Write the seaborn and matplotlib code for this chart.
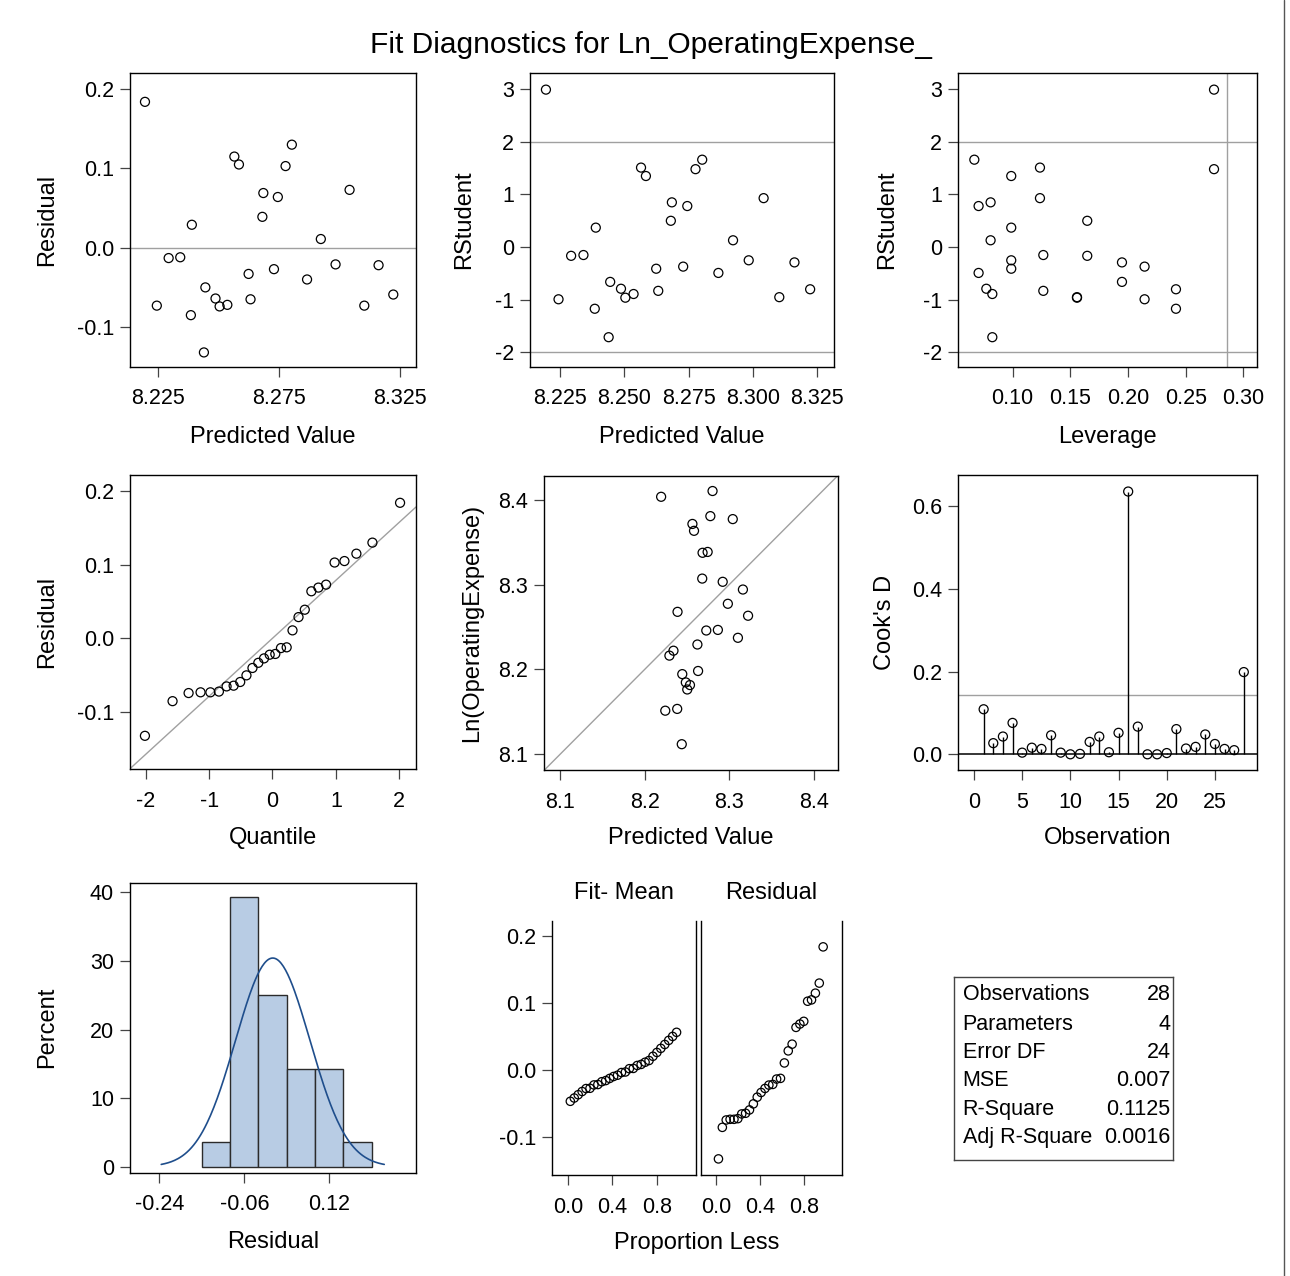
import numpy as np
import pandas as pd
import matplotlib
matplotlib.use("Agg")
import matplotlib.pyplot as plt
from matplotlib.lines import Line2D
import seaborn as sns
from statistics import NormalDist

sns.set_theme(style="white")
plt.rcParams["font.family"] = ["Liberation Sans", "DejaVu Sans"]
plt.rcParams["text.color"] = "black"
plt.rcParams["axes.labelcolor"] = "black"
plt.rcParams["xtick.color"] = "black"
plt.rcParams["ytick.color"] = "black"

# ---------------- data ----------------
predicted = [8.2195, 8.2803, 8.2565, 8.2584, 8.2777, 8.3042, 8.2685, 8.2745, 8.2681, 8.2389,
             8.2923, 8.2293, 8.2341, 8.2984, 8.3162, 8.2729, 8.2624, 8.2866, 8.2445, 8.3223,
             8.2487, 8.2632, 8.2536, 8.2504, 8.2244, 8.3103, 8.2385, 8.2439]
residual = [0.184, 0.130, 0.115, 0.105, 0.103, 0.073, 0.069, 0.064, 0.039, 0.029,
            0.011, -0.013, -0.012, -0.021, -0.022, -0.027, -0.033, -0.040, -0.050, -0.059,
            -0.064, -0.065, -0.072, -0.074, -0.073, -0.073, -0.085, -0.132]
rstudent = [2.99, 1.66, 1.51, 1.35, 1.48, 0.93, 0.85, 0.78, 0.50, 0.37,
            0.13, -0.165, -0.15, -0.25, -0.29, -0.37, -0.41, -0.49, -0.66, -0.80,
            -0.79, -0.83, -0.89, -0.96, -0.99, -0.95, -1.17, -1.71]
leverage = [0.2746, 0.0668, 0.1237, 0.0988, 0.2746, 0.1237, 0.0809, 0.0705, 0.1647, 0.0988,
            0.0809, 0.1647, 0.1266, 0.0988, 0.1948, 0.2144, 0.0988, 0.0705, 0.1948, 0.2416,
            0.0772, 0.1266, 0.0824, 0.1558, 0.2144, 0.1558, 0.2416, 0.0824]
observed = [8.4035, 8.4103, 8.3715, 8.3634, 8.3807, 8.3772, 8.3375, 8.3385, 8.3071, 8.2679,
            8.3033, 8.2163, 8.2221, 8.2774, 8.2942, 8.2459, 8.2294, 8.2466, 8.1945, 8.2633,
            8.1847, 8.1982, 8.1816, 8.1764, 8.1514, 8.2373, 8.1535, 8.1119]
observation = list(range(1, 29))
cooks_d = [0.109, 0.027, 0.043, 0.076, 0.004, 0.016, 0.013, 0.046, 0.004, 0.000,
           0.001, 0.030, 0.043, 0.005, 0.052, 0.636, 0.067, 0.000, 0.000, 0.003,
           0.061, 0.014, 0.018, 0.048, 0.025, 0.013, 0.010, 0.199]
hist_edges = [-0.15, -0.09, -0.03, 0.03, 0.09, 0.15, 0.21]
stat_labels = ["Observations", "Parameters", "Error DF", "MSE", "R-Square", "Adj R-Square"]
stat_values = ["28", "4", "24", "0.007", "0.1125", "0.0016"]
n_params = 4

title = "Fit Diagnostics for Ln_OperatingExpense_"

# ---------------- figure helpers ----------------
W, H = 1290, 1276
fig = plt.figure(figsize=(W / 100, H / 100), dpi=100)
fig.patch.set_facecolor("white")

REF = "#a0a0a0"
TICK_FS = 15.5
LAB_FS = 17
MS = 42


def add_ax(l, t, r, b):
    ax = fig.add_axes([l / W, 1 - b / H, (r - l) / W, (b - t) / H])
    for s in ax.spines.values():
        s.set_visible(True)
        s.set_color("black")
        s.set_linewidth(1.0)
    ax.tick_params(axis="both", which="both", direction="out", length=7.5, width=0.9,
                   color="#444444", labelsize=TICK_FS, labelcolor="black",
                   left=True, bottom=True, top=False, right=False)
    ax.tick_params(axis="x", pad=8)
    ax.tick_params(axis="y", pad=4)
    ax.grid(False)
    ax.set_facecolor("white")
    ax.box = (l, t, r, b)
    return ax


def set_labels(ax, xlabel, xlab_y, ylabel, ylab_x):
    l, t, r, b = ax.box
    if xlabel:
        ax.set_xlabel(xlabel, fontsize=LAB_FS, color="black")
        ax.xaxis.set_label_coords(0.5, (b - xlab_y) / (b - t))
        ax.xaxis.label.set_va("center")
    else:
        ax.set_xlabel("")
    if ylabel:
        ax.set_ylabel(ylabel, fontsize=LAB_FS, color="black")
        ax.yaxis.set_label_coords((ylab_x - l) / (r - l), 0.5)
        ax.yaxis.label.set_va("center")
    else:
        ax.set_ylabel("")


def circles(ax, x, y, s=MS):
    sns.scatterplot(x=x, y=y, ax=ax, marker="o", s=s, fc="none", ec="black",
                    linewidth=0.9, zorder=3, legend=False)


def fmt(vals, f):
    return [f.format(v) for v in vals]


# ---------------- Row 1 ----------------
ax1 = add_ax(130, 73.3, 416, 366.7)
ax1.axhline(0, color=REF, lw=1, zorder=1)
circles(ax1, predicted, residual)
ax1.set_xlim(8.2133, 8.3317)
ax1.set_ylim(-0.150, 0.220)
ax1.set_xticks([8.225, 8.275, 8.325])
ax1.set_xticklabels(fmt([8.225, 8.275, 8.325], "{:.3f}"))
ax1.set_yticks([-0.1, 0.0, 0.1, 0.2])
ax1.set_yticklabels(["-0.1", "0.0", "0.1", "0.2"])
set_labels(ax1, "Predicted Value", 437, "Residual", 47)

ax2 = add_ax(530, 73.3, 834.3, 366.7)
ax2.axhline(2, color=REF, lw=1, zorder=1)
ax2.axhline(-2, color=REF, lw=1, zorder=1)
circles(ax2, predicted, rstudent)
ax2.set_xlim(8.2133, 8.3317)
ax2.set_ylim(-2.27, 3.30)
xt2 = [8.225, 8.250, 8.275, 8.300, 8.325]
ax2.set_xticks(xt2)
ax2.set_xticklabels(fmt(xt2, "{:.3f}"))
ax2.set_yticks([-2, -1, 0, 1, 2, 3])
ax2.set_yticklabels(["-2", "-1", "0", "1", "2", "3"])
set_labels(ax2, "Predicted Value", 437, "RStudent", 464)

ax3 = add_ax(958.3, 73.3, 1256.7, 366.7)
ax3.axhline(2, color=REF, lw=1, zorder=1)
ax3.axhline(-2, color=REF, lw=1, zorder=1)
ax3.axvline(2 * n_params / len(observation), color=REF, lw=1, zorder=1)
circles(ax3, leverage, rstudent)
ax3.set_xlim(0.0529, 0.3116)
ax3.set_ylim(-2.27, 3.30)
xt3 = [0.10, 0.15, 0.20, 0.25, 0.30]
ax3.set_xticks(xt3)
ax3.set_xticklabels(fmt(xt3, "{:.2f}"))
ax3.set_yticks([-2, -1, 0, 1, 2, 3])
ax3.set_yticklabels(["-2", "-1", "0", "1", "2", "3"])
set_labels(ax3, "Leverage", 437, "RStudent", 887)

# ---------------- Row 2 ----------------
n = len(residual)
probs = (np.arange(1, n + 1) - 0.375) / (n + 0.25)
quant = np.array([NormalDist().inv_cdf(p) for p in probs])
res_sorted = np.sort(np.array(residual))
mu = float(np.mean(residual))
sd = float(np.std(residual, ddof=1))

ax4 = add_ax(130, 475, 416, 769)
xq = np.array([-2.247, 2.263])
ax4.plot(xq, mu + sd * xq, color=REF, lw=1, zorder=1)
circles(ax4, quant, res_sorted)
ax4.set_xlim(-2.247, 2.263)
ax4.set_ylim(-0.177, 0.2217)
ax4.set_xticks([-2, -1, 0, 1, 2])
ax4.set_xticklabels(["-2", "-1", "0", "1", "2"])
ax4.set_yticks([-0.1, 0.0, 0.1, 0.2])
ax4.set_yticklabels(["-0.1", "0.0", "0.1", "0.2"])
set_labels(ax4, "Quantile", 838, "Residual", 47)

ax5 = add_ax(544, 476, 838.3, 770)
ax5.plot([8.0, 8.5], [8.0, 8.5], color=REF, lw=1, zorder=1)
circles(ax5, predicted, observed)
ax5.set_xlim(8.081, 8.429)
ax5.set_ylim(8.0815, 8.428)
tk5 = [8.1, 8.2, 8.3, 8.4]
ax5.set_xticks(tk5)
ax5.set_xticklabels(fmt(tk5, "{:.1f}"))
ax5.set_yticks(tk5)
ax5.set_yticklabels(fmt(tk5, "{:.1f}"))
set_labels(ax5, "Predicted Value", 838, "Ln(OperatingExpense)", 472)

ax6 = add_ax(958.3, 475, 1257.3, 770)
ax6.axhline(4 / len(observation), color=REF, lw=1, zorder=1)
ax6.axhline(0, color="black", lw=1.1, zorder=2)
ax6.vlines(observation, 0, cooks_d, color="black", lw=1.0, zorder=2)
circles(ax6, observation, cooks_d)
ax6.set_xlim(-1.63, 29.4)
ax6.set_ylim(-0.038, 0.676)
ax6.set_xticks([0, 5, 10, 15, 20, 25])
ax6.set_xticklabels(["0", "5", "10", "15", "20", "25"])
ax6.set_yticks([0.0, 0.2, 0.4, 0.6])
ax6.set_yticklabels(["0.0", "0.2", "0.4", "0.6"])
set_labels(ax6, "Observation", 838, "Cook's D", 885)

# ---------------- Row 3 ----------------
ax7 = add_ax(130, 882.7, 416, 1172.7)
sns.histplot(x=residual, bins=hist_edges, stat="percent", ax=ax7, color="#b8cce4",
             edgecolor="#2b2b2b", linewidth=1.0, alpha=1.0, zorder=2)
bw = hist_edges[1] - hist_edges[0]
xc = np.linspace(mu - 3 * sd, mu + 3 * sd, 200)
yc = 100 * bw * np.exp(-0.5 * ((xc - mu) / sd) ** 2) / (sd * np.sqrt(2 * np.pi))
sns.lineplot(x=xc, y=yc, ax=ax7, color="#1f4e8c", lw=1.2, zorder=3, sort=False)
ax7.set_xlim(-0.302, 0.3036)
ax7.set_ylim(-0.87, 41.4)
ax7.set_xticks([-0.24, -0.06, 0.12])
ax7.set_xticklabels(["-0.24", "-0.06", "0.12"])
ax7.set_yticks([0, 10, 20, 30, 40])
ax7.set_yticklabels(["0", "10", "20", "30", "40"])
set_labels(ax7, "Residual", 1242, "Percent", 47)

fit_mean = np.sort(np.array(predicted)) - np.mean(predicted)
ax8 = add_ax(552.3, 920.7, 695.7, 1175)
ax9 = add_ax(700.7, 920.7, 842, 1175)
circles(ax8, probs, fit_mean, s=36)
circles(ax9, probs, res_sorted, s=36)
for ax in (ax8, ax9):
    ax.spines["top"].set_visible(False)
    ax.set_xlim(-0.14, 1.15)
    ax.set_ylim(-0.156, 0.223)
    ax.set_xticks([0.0, 0.4, 0.8])
    ax.set_xticklabels(["0.0", "0.4", "0.8"])
    ax.set_xlabel("")
    ax.set_ylabel("")
ax8.set_yticks([-0.1, 0.0, 0.1, 0.2])
ax8.set_yticklabels(["-0.1", "0.0", "0.1", "0.2"])
ax9.set_yticks([])
ax9.tick_params(axis="y", left=False, labelleft=False)
fig.text(624 / W, 1 - 893 / H, "Fit- Mean", ha="center", va="center", fontsize=LAB_FS, color="black")
fig.text(771 / W, 1 - 893 / H, "Residual", ha="center", va="center", fontsize=LAB_FS, color="black")
fig.text(697 / W, 1 - 1243 / H, "Proportion Less", ha="center", va="center", fontsize=LAB_FS, color="black")

# statistics box
axs = fig.add_axes([954 / W, 1 - 1160 / H, (1173.3 - 954) / W, (1160 - 976.7) / H])
axs.set_xlim(0, 1)
axs.set_ylim(0, 1)
axs.set_xticks([])
axs.set_yticks([])
for s in axs.spines.values():
    s.set_visible(True)
    s.set_color("#444444")
    s.set_linewidth(1.0)
row_y = [995, 1024.3, 1052.7, 1081, 1109.3, 1137.7]
for lab, val, yp in zip(stat_labels, stat_values, row_y):
    yy = (1160 - yp) / (1160 - 976.7)
    axs.text((962.7 - 954) / (1173.3 - 954), yy, lab, ha="left", va="center", fontsize=15.5, color="black")
    axs.text((1170.7 - 954) / (1173.3 - 954), yy, val, ha="right", va="center", fontsize=15.5, color="black")

# title and outer right border line
fig.text(651 / W, 1 - 45 / H, title, ha="center", va="center", fontsize=21.5, color="black")
fig.add_artist(Line2D([1283.5 / W, 1283.5 / W], [0, 1], color="#555555", lw=1.0))

fig.savefig("out.png", dpi=100, facecolor="white")
